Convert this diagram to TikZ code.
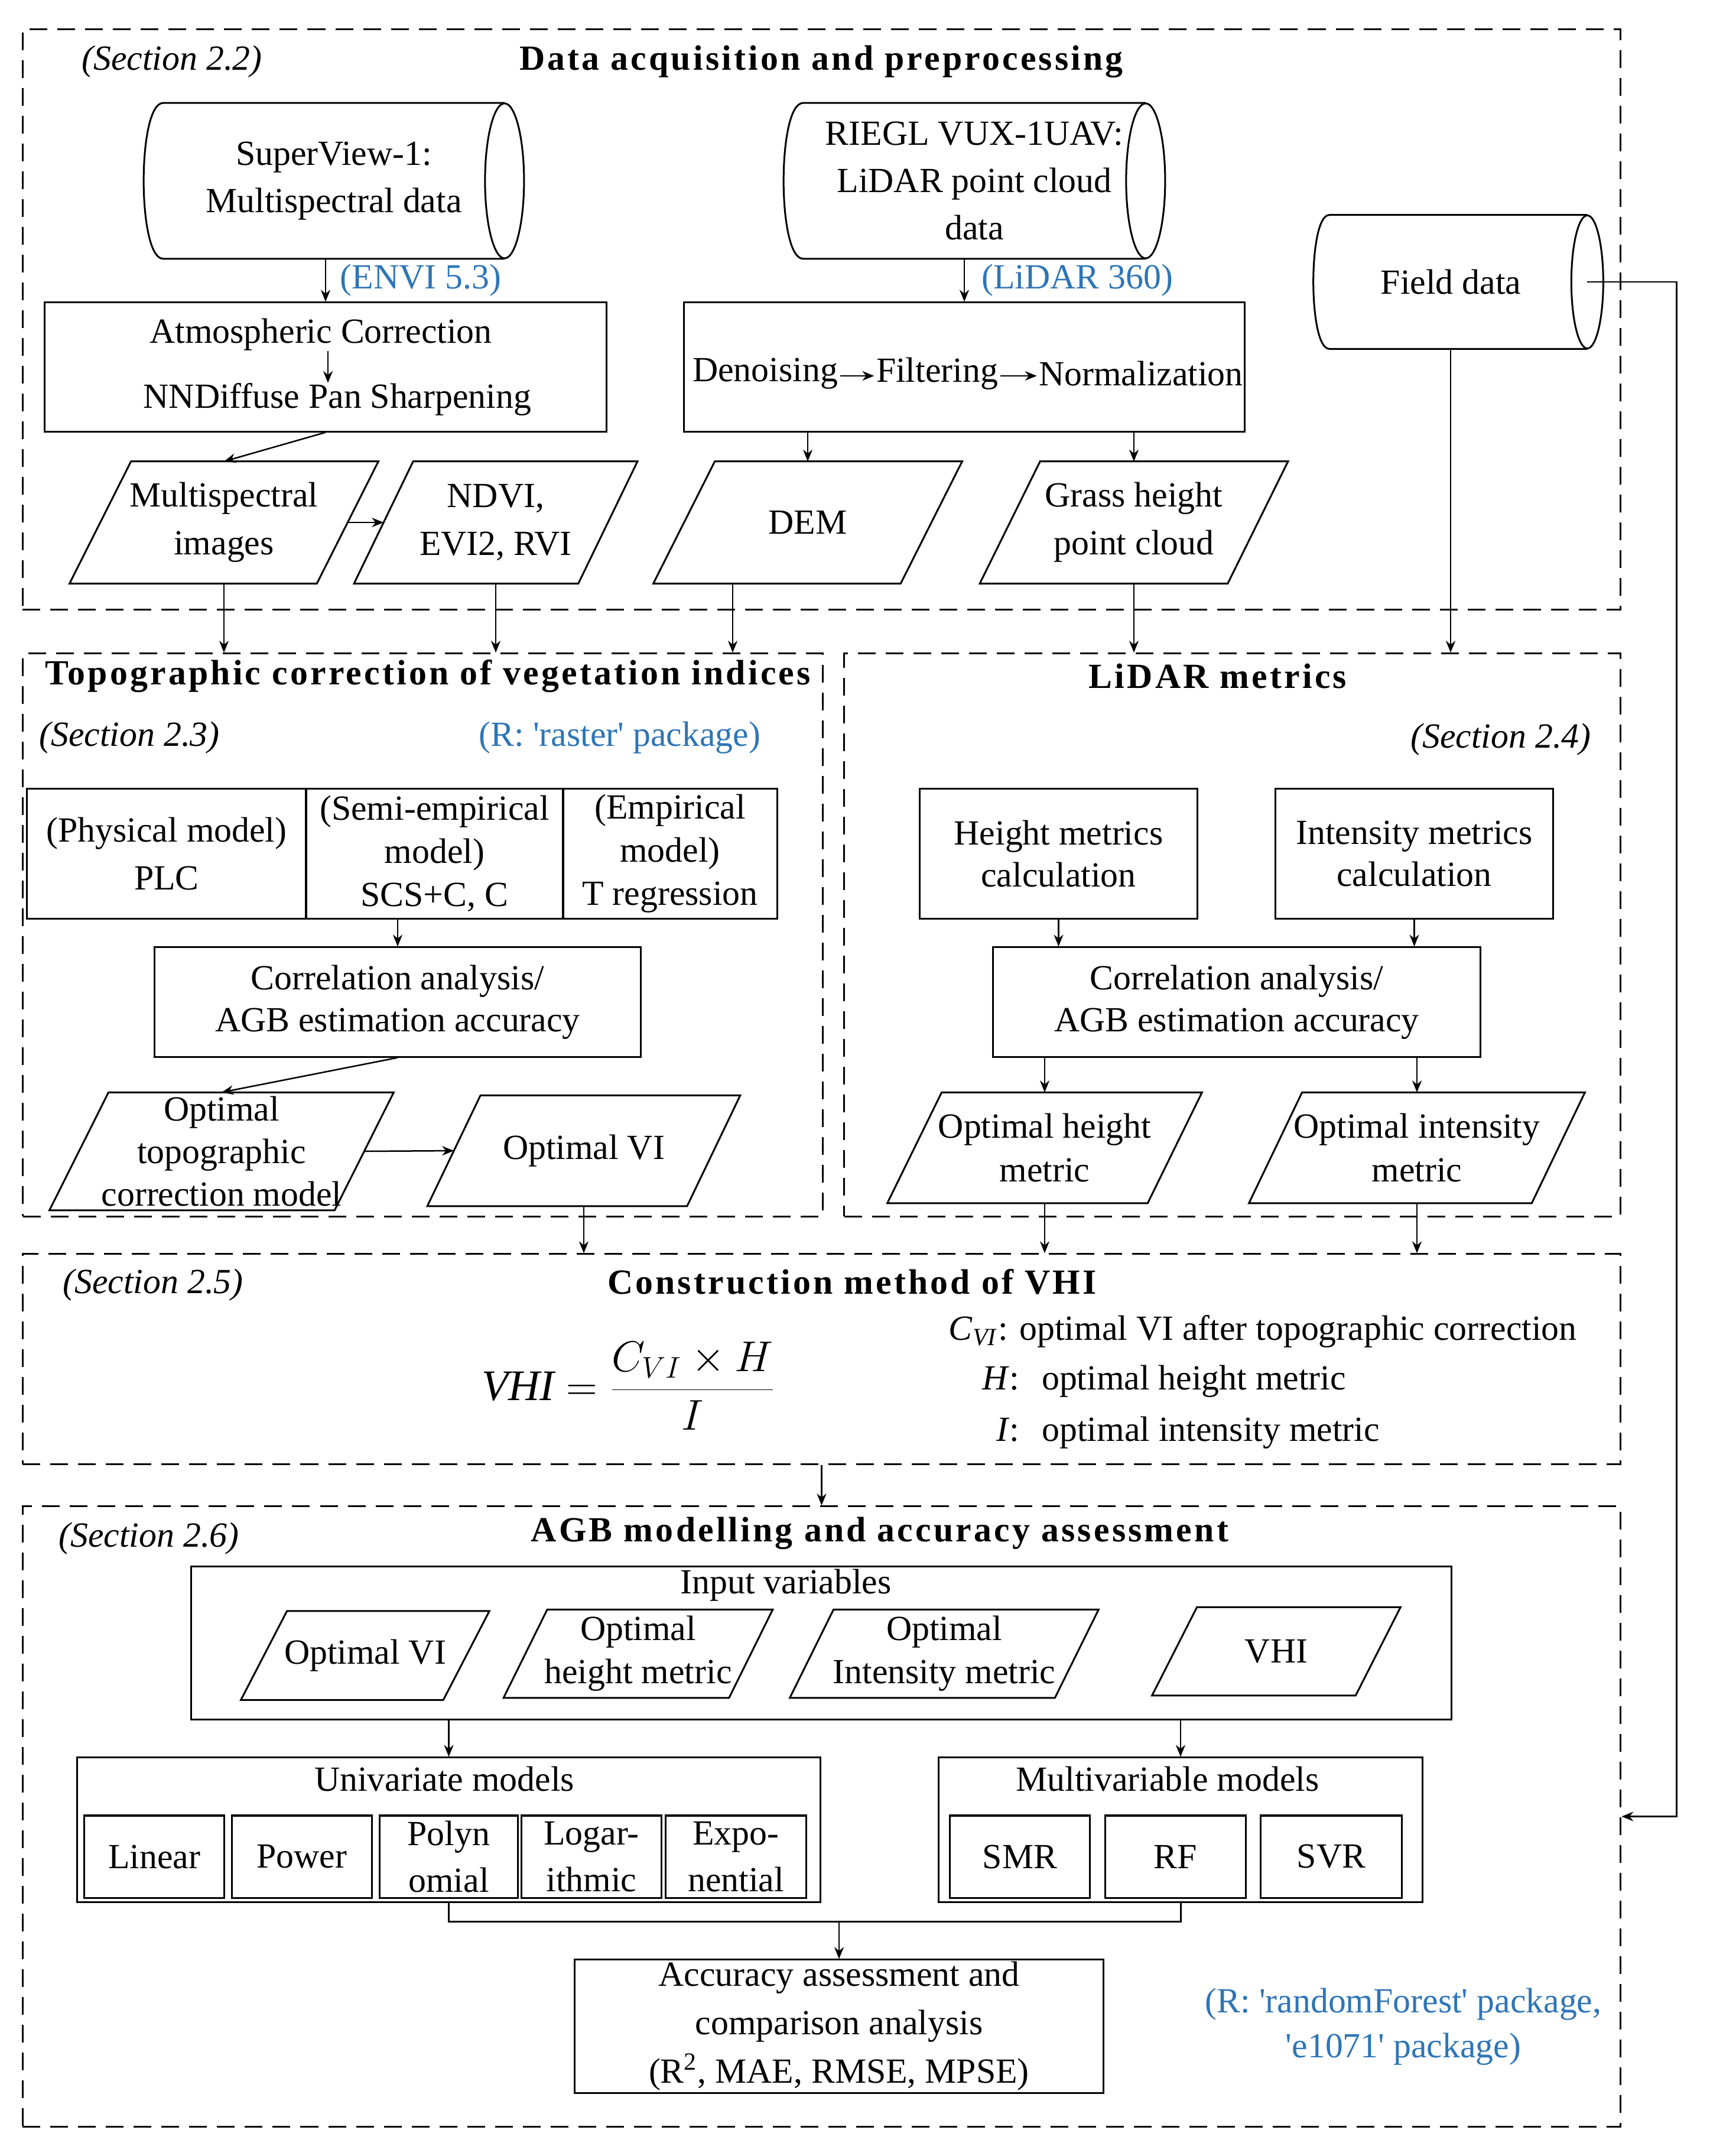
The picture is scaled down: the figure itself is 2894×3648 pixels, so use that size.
\documentclass[tikz,border=0pt]{standalone}
\usepackage{fontspec}
\setmainfont{Liberation Serif}
\newfontfamily\titlef[LetterSpace=7]{Liberation Serif}
\usetikzlibrary{calc,arrows.meta}
\definecolor{azul}{RGB}{46,117,182}
\newcommand\fb{\fontsize{17}{22.5}\selectfont}
\newcommand\sq{\textquotesingle}
\newcommand\pgram[2]{\draw[ln] ($(#1.north west)+(#2,0)$) -- ($(#1.north east)+(#2,0)$) -- ($(#1.south east)+(-#2,0)$) -- ($(#1.south west)+(-#2,0)$) -- cycle;}
\newcommand\drawcyl[3]{%
 \draw[ln] (#1.north east) -- (#1.north west) .. controls ($(#1.north west)+(-1.333*#2,0)$) and ($(#1.south west)+(-1.333*#2,0)$) .. (#1.south west) -- (#1.south east);
 \draw[ln] (#1.east) ellipse [x radius=#2/100*1cm, y radius=#3];}
\tikzset{
 ln/.style={line width=0.03cm},
 txt/.style={inner sep=0pt, align=center, font=\fb},
 ls/.style={font=\fontsize{17}{#1}\selectfont},
 boxs/.style={draw, line width=0.03cm, inner sep=0pt, align=center, font=\fb},
 sec/.style={draw, line width=0.03cm, dash pattern=on 0.3cm off 0.17cm, inner sep=0pt},
 arr/.style={line width=0.025cm, -{Stealth[length=0.2cm,width=0.16cm]}},
 lbl/.style={txt, text=azul},
 ttl/.style={inner sep=0pt, font=\titlef\bfseries\fontsize{17}{22}\selectfont},
 sect/.style={inner sep=0pt, font=\fb\itshape},
}
\begin{document}
\begin{tikzpicture}[x=0.01cm, y=-0.01cm]
\useasboundingbox (0,0) rectangle (2894,3648);
% frames
\node[sec, minimum width=27.03cm, minimum height=9.81cm] (f1) at (1390.5,540.5) {};
\node[sec, minimum width=13.53cm, minimum height=9.52cm] (f3) at (715.5,1582) {};
\node[sec, minimum width=13.13cm, minimum height=9.52cm] (f4) at (2085.5,1582) {};
\node[sec, minimum width=27.03cm, minimum height=3.55cm] (f5) at (1390.5,2299.5) {};
\node[sec, minimum width=27.03cm, minimum height=10.49cm] (f6) at (1390.5,3073.5) {};

% ===== Section 2.2
\node[sect] (s22) at (291,104) {(Section 2.2)};
\node[ttl] (t1) at (1390,104) {Data acquisition and preprocessing};
\node[txt, ls=22.8pt, minimum width=5.76cm, minimum height=2.62cm] (sv) at (565,306) {SuperView-1:\\Multispectral data};
\drawcyl{sv}{33}{1.31cm}
\node[txt, ls=22.8pt, minimum width=5.78cm, minimum height=2.62cm] (rg) at (1649,306) {RIEGL VUX-1UAV:\\LiDAR point cloud\\data};
\drawcyl{rg}{33}{1.31cm}
\node[txt, minimum width=4.35cm, minimum height=2.25cm] (fd) at (2468,477) {Field data\hspace{0.25cm}};
\drawcyl{fd}{27}{1.125cm}
\node[lbl] (envi) at (712,474) {(ENVI 5.3)};
\node[lbl] (l360) at (1823,474) {(LiDAR 360)};

\node[boxs, minimum width=9.51cm, minimum height=2.18cm] (ac) at (551,621) {};
\node[txt] (ac1) at (543,566) {Atmospheric Correction};
\node[txt] (ac2) at (571,676) {NNDiffuse Pan Sharpening};
\draw[arr] ($(ac1.south)+(12,0)$) -- ($(ac1.south |- ac2.north)+(12,0)$);

\node[boxs, minimum width=9.49cm, minimum height=2.18cm] (dn) at (1632,621) {};
\node[txt] (d1) at (1295,632) {Denoising};
\node[txt] (d2) at (1586,632) {Filtering};
\node[txt] (d3) at (1931,632) {Normalization};
\draw[arr] ($(d1.east)+(3,4)$) -- ($(d2.west)+(-3,4)$);
\draw[arr] ($(d2.east)+(3,4)$) -- ($(d3.west)+(-3,4)$);

\node[txt, ls=23pt, minimum width=4.17cm, minimum height=2.05cm] (mi) at (379,884) {Multispectral\\images};
\pgram{mi}{52}
\node[txt, ls=23pt, minimum width=3.78cm, minimum height=2.05cm] (nd) at (839,884) {NDVI,\\EVI2, RVI};
\pgram{nd}{50}
\node[txt, minimum width=4.17cm, minimum height=2.05cm] (dem) at (1367,884) {DEM};
\pgram{dem}{52}
\node[txt, ls=23pt, minimum width=4.18cm, minimum height=2.05cm] (gh) at (1919,884) {Grass height\\point cloud};
\pgram{gh}{51}

\draw[arr] (sv.south -| ac.north) -- (ac.north);
\draw[arr] (rg.south -| dn.north) -- (dn.north);
\draw[arr] (ac.south) -- (mi.north);
\draw[arr] (mi.east) -- (nd.west);
\draw[arr] (dn.south -| dem.north) -- (dem.north);
\draw[arr] (dn.south -| gh.north) -- (gh.north);
\draw[arr] (mi.south) -- (mi.south |- f3.north);
\draw[arr] (nd.south) -- (nd.south |- f3.north);
\draw[arr] ($(dem.south)+(-127,0)$) -- ($(dem.south |- f3.north)+(-127,0)$);
\draw[arr] (gh.south) -- (gh.south |- f4.north);
\draw[arr] ($(fd.south)+(-13,0)$) -- ($(fd.south |- f4.north)+(-13,0)$);
\draw[arr] (fd.east) -- ++(151,0) |- (f6.east);

% ===== Section 2.3
\node[ttl] (t3) at (724,1144) {Topographic correction of vegetation indices};
\node[sect] (s23) at (219,1248) {(Section 2.3)};
\node[lbl] (rpk) at (1049,1248) {(R: \sq raster\sq{} package)};
\node[boxs, ls=23pt, minimum width=4.72cm, minimum height=2.19cm] (c1) at (282,1444.5) {(Physical model)\\PLC};
\node[boxs, ls=20.8pt, minimum width=4.35cm, minimum height=2.19cm] (c2) at (735.5,1444.5) {(Semi-empirical\\model)\\SCS+C, C};
\node[boxs, ls=20.8pt, minimum width=3.62cm, minimum height=2.19cm] (c3) at (1134,1444.5) {(Empirical\\model)\\T regression};
\node[boxs, ls=20.2pt, minimum width=8.23cm, minimum height=1.85cm] (cl) at (673,1695.5) {Correlation analysis/\\AGB estimation accuracy};
\node[txt, ls=20.5pt, minimum width=4.81cm, minimum height=1.98cm] (ot) at (375,1948) {Optimal\\topographic\\correction model};
\pgram{ot}{50}
\node[txt, minimum width=4.38cm, minimum height=1.86cm] (ovi) at (988,1947) {Optimal VI};
\pgram{ovi}{45}
\draw[arr] (c2.south -| cl.north) -- (cl.north);
\draw[arr] (cl.south) -- (ot.north);
\draw[arr] (ot.east) -- (ovi.west);
\draw[arr] (ovi.south) -- (ovi.south |- f5.north);

% ===== Section 2.4
\node[ttl] (t4) at (2061,1144) {LiDAR metrics};
\node[sect] (s24) at (2540,1251) {(Section 2.4)};
\node[boxs, ls=20pt, minimum width=4.69cm, minimum height=2.19cm] (hm) at (1791.5,1444.5) {Height metrics\\calculation};
\node[boxs, ls=20pt, minimum width=4.69cm, minimum height=2.19cm] (im) at (2393.5,1444.5) {Intensity metrics\\calculation};
\node[boxs, ls=20.2pt, minimum width=8.24cm, minimum height=1.85cm] (cr) at (2093,1695.5) {Correlation analysis/\\AGB estimation accuracy};
\node[txt, ls=21pt, minimum width=4.39cm, minimum height=1.86cm] (oh) at (1768,1942) {Optimal height\\metric};
\pgram{oh}{46}
\node[txt, ls=21pt, minimum width=4.77cm, minimum height=1.86cm] (oin) at (2398,1942) {Optimal intensity\\metric};
\pgram{oin}{45}
\draw[arr] (hm.south) -- (hm.south |- cr.north);
\draw[arr] (im.south) -- (im.south |- cr.north);
\draw[arr] (cr.south -| oh.north) -- (oh.north);
\draw[arr] (cr.south -| oin.north) -- (oin.north);
\draw[arr] (oh.south) -- (oh.south |- f5.north);
\draw[arr] (oin.south) -- (oin.south |- f5.north);

% ===== Section 2.5
\node[sect] (s25) at (259,2174) {(Section 2.5)};
\node[ttl] (t5) at (1442,2169) {Construction method of VHI};
\node[inner sep=0pt, font=\fontsize{21}{25}\selectfont] (fm) at (1064,2345) {$\displaystyle \textit{VHI}=\frac{C_{VI}\times H}{I}$};
\node[txt, anchor=west] (l1) at (1605,2253) {\textit{C}\textsubscript{\textit{VI}}: optimal VI after topographic correction};
\node[txt, anchor=west] (l2) at (1662,2337) {\textit{H}:\hspace{0.38cm}optimal height metric};
\node[txt, anchor=west] (l3) at (1686,2424) {\textit{I}:\hspace{0.38cm}optimal intensity metric};
\draw[arr] (f5.south) -- (f6.north);

% ===== Section 2.6
\node[sect] (s26) at (252,2603) {(Section 2.6)};
\node[ttl] (t6) at (1489,2594) {AGB modelling and accuracy assessment};
\node[boxs, minimum width=21.32cm, minimum height=2.58cm] (iv) at (1390,2780) {};
\node[txt] (ivt) at (1330,2682) {Input variables};
\node[txt, minimum width=3.41cm, minimum height=1.49cm] (p1) at (618,2801) {Optimal VI};
\pgram{p1}{39}
\node[txt, ls=20.8pt, minimum width=3.80cm, minimum height=1.48cm] (p2) at (1080,2798) {Optimal\\height metric};
\pgram{p2}{37}
\node[txt, ls=20.8pt, minimum width=4.47cm, minimum height=1.48cm] (p3) at (1598,2798) {Optimal\\Intensity metric};
\pgram{p3}{37}
\node[txt, minimum width=3.43cm, minimum height=1.48cm] (p4) at (2160,2794) {VHI};
\pgram{p4}{38}

\node[boxs, minimum width=12.57cm, minimum height=2.44cm] (um) at (759.5,3096) {};
\node[txt] (umt) at (752,3010) {Univariate models};
\node[boxs, minimum width=2.36cm, minimum height=1.39cm] (s1) at (261,3141.5) {Linear};
\node[boxs, minimum width=2.36cm, minimum height=1.39cm] (s2) at (511,3141.5) {Power};
\node[boxs, ls=22.5pt, minimum width=2.33cm, minimum height=1.39cm] (s3) at (759.5,3141.5) {Polyn\\omial};
\node[boxs, ls=22.5pt, minimum width=2.36cm, minimum height=1.39cm] (s4) at (1001,3141.5) {Logar-\\ithmic};
\node[boxs, ls=22.5pt, minimum width=2.37cm, minimum height=1.39cm] (s5) at (1245.5,3141.5) {Expo-\\nential};

\node[boxs, minimum width=8.18cm, minimum height=2.44cm] (mm) at (1998,3096) {};
\node[txt] (mmt) at (1976,3010) {Multivariable models};
\node[boxs, minimum width=2.36cm, minimum height=1.39cm] (m1) at (1726,3141.5) {SMR};
\node[boxs, minimum width=2.37cm, minimum height=1.39cm] (m2) at (1989.5,3141.5) {RF};
\node[boxs, minimum width=2.38cm, minimum height=1.39cm] (m3) at (2253,3141.5) {SVR};

\node[boxs, ls=23.3pt, minimum width=8.94cm, minimum height=2.25cm] (acc) at (1420,3428.5) {Accuracy assessment and\\comparison analysis\\(R\textsuperscript{2}, MAE, RMSE, MPSE)};
\node[lbl, ls=21.6pt] (rfp) at (2375,3429) {(R: \sq randomForest\sq{} package,\\\sq e1071\sq{} package)};

\draw[arr] (iv.south -| um.north) -- (um.north);
\draw[arr] (iv.south -| mm.north) -- (mm.north);
\draw[ln] (um.south) -- ++(0,32) coordinate (jn) -| (mm.south);
\draw[arr] (jn -| acc.north) -- (acc.north);
\end{tikzpicture}
\end{document}
